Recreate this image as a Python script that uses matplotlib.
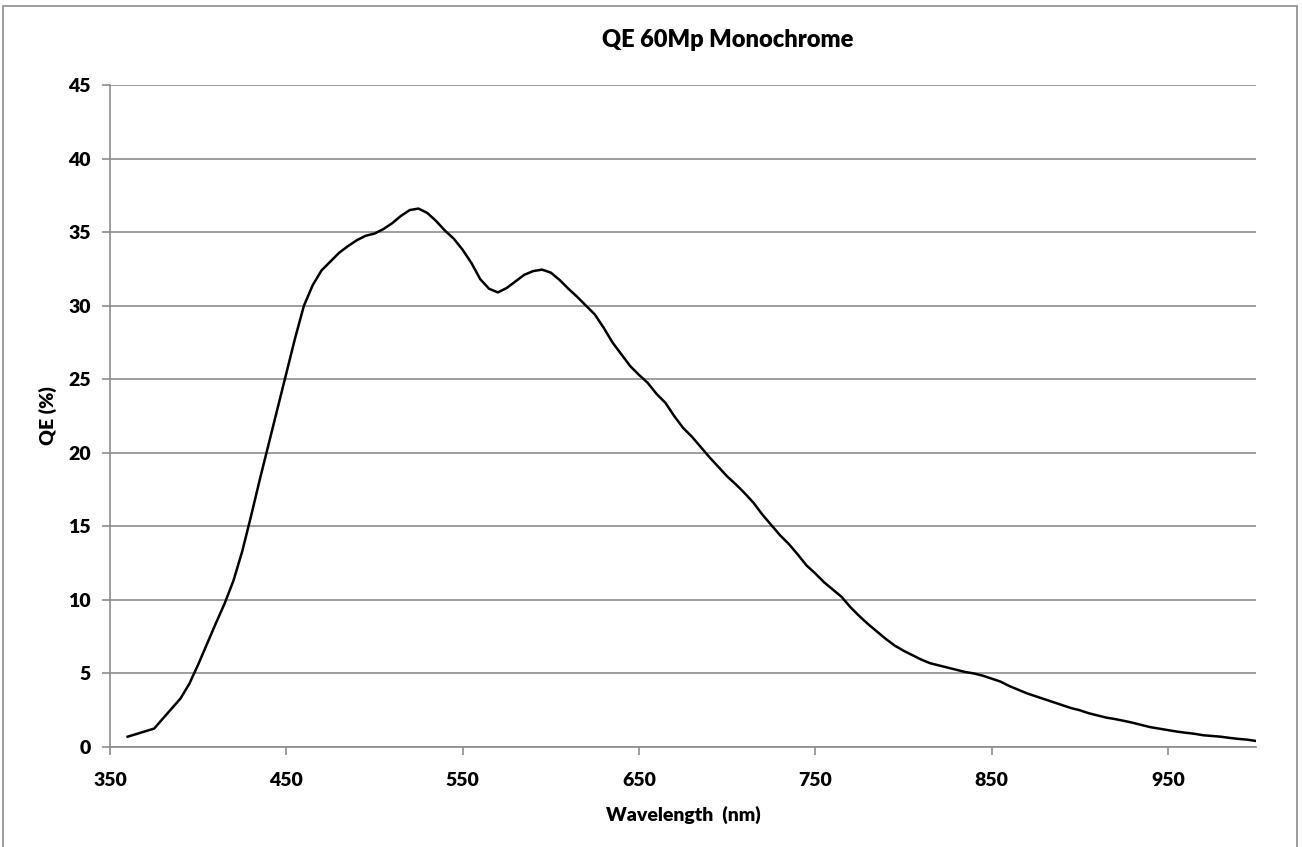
import matplotlib.pyplot as plt
from matplotlib.patches import Rectangle

# QE curve (wavelength in nm, QE in %)
wavelength = [360, 375, 390, 395, 400, 405, 410, 415, 420, 425, 430, 435, 440, 445,
              450, 455, 460, 465, 470, 475, 480, 485, 490, 495, 500, 505, 510, 515,
              520, 525, 530, 535, 540, 545, 550, 555, 560, 565, 570, 575, 580, 585,
              590, 595, 600, 605, 610, 615, 620, 625, 630, 635, 640, 645, 650, 655,
              660, 665, 670, 675, 680, 685, 690, 695, 700, 705, 710, 715, 720, 725,
              730, 735, 740, 745, 750, 755, 760, 765, 770, 775, 780, 785, 790, 795,
              800, 805, 810, 815, 820, 825, 830, 835, 840, 845, 850, 855, 860, 865,
              870, 875, 880, 885, 890, 895, 900, 905, 910, 915, 920, 925, 930, 935,
              940, 945, 950, 955, 960, 965, 970, 975, 980, 985, 990, 995, 1000]
qe = [0.7, 1.25, 3.3, 4.3, 5.6, 7.0, 8.4, 9.75, 11.3, 13.3, 15.7, 18.2, 20.6, 23.0,
      25.4, 27.8, 30.0, 31.4, 32.4, 33.0, 33.6, 34.05, 34.45, 34.75, 34.9, 35.2, 35.6, 36.1,
      36.5, 36.6, 36.3, 35.75, 35.1, 34.55, 33.8, 32.9, 31.8, 31.15, 30.9, 31.2, 31.65, 32.1,
      32.35, 32.45, 32.25, 31.75, 31.15, 30.6, 30.0, 29.4, 28.5, 27.5, 26.7, 25.9, 25.3, 24.75,
      24.0, 23.4, 22.5, 21.7, 21.1, 20.4, 19.7, 19.05, 18.4, 17.85, 17.25, 16.6, 15.8, 15.1,
      14.4, 13.8, 13.1, 12.35, 11.8, 11.2, 10.7, 10.2, 9.5, 8.9, 8.35, 7.85, 7.35, 6.9,
      6.55, 6.25, 5.95, 5.7, 5.55, 5.4, 5.25, 5.1, 5.0, 4.85, 4.65, 4.45, 4.15, 3.9,
      3.65, 3.45, 3.25, 3.05, 2.85, 2.65, 2.5, 2.3, 2.15, 2.0, 1.9, 1.78, 1.65, 1.5,
      1.35, 1.25, 1.15, 1.05, 0.97, 0.9, 0.8, 0.75, 0.7, 0.62, 0.55, 0.5, 0.41]

x_ticks = [350, 450, 550, 650, 750, 850, 950]
y_ticks = [0, 5, 10, 15, 20, 25, 30, 35, 40, 45]

plt.rcParams['font.family'] = ['Lato', 'DejaVu Sans']
plt.rcParams['font.weight'] = 'bold'

fig = plt.figure(figsize=(13.02, 8.47), dpi=100)
ax = fig.add_axes([110 / 1302, 100 / 847, 1146 / 1302, 662 / 847])

grey = '#8c8c8c'
ax.plot(wavelength, qe, color='black', lw=1.8, solid_joinstyle='round')

ax.set_xlim(350, 1000)
ax.set_ylim(0, 45)
ax.set_xticks(x_ticks)
ax.set_xticklabels([str(v) for v in x_ticks], fontsize=14, fontweight='heavy')
ax.set_yticks(y_ticks)
ax.set_yticklabels([str(v) for v in y_ticks], fontsize=14, fontweight='heavy')
ax.yaxis.grid(True, color=grey, lw=1.2)
ax.set_axisbelow(True)

for side in ['top', 'right']:
    ax.spines[side].set_visible(False)
for side in ['left', 'bottom']:
    ax.spines[side].set_color(grey)
    ax.spines[side].set_linewidth(1.2)

ax.tick_params(axis='both', direction='out', length=6, width=1.2, color=grey, pad=8)
ax.tick_params(axis='x', pad=12)

ax.set_xlabel('Wavelength  (nm)', fontsize=14, fontweight='heavy', labelpad=12)
ax.set_ylabel('QE (%)', fontsize=14, fontweight='heavy', labelpad=8)
fig.text(728 / 1302, 1 - 40 / 847, 'QE 60Mp Monochrome', fontsize=17,
         fontweight='heavy', ha='center', va='center')

# chart area border
fig.patches.append(Rectangle((3 / 1302, -0.01), 1294 / 1302, 1 - 6 / 847 + 0.01,
                             transform=fig.transFigure, fill=False,
                             edgecolor=grey, lw=1.2))

fig.savefig('out.png', dpi=100)
